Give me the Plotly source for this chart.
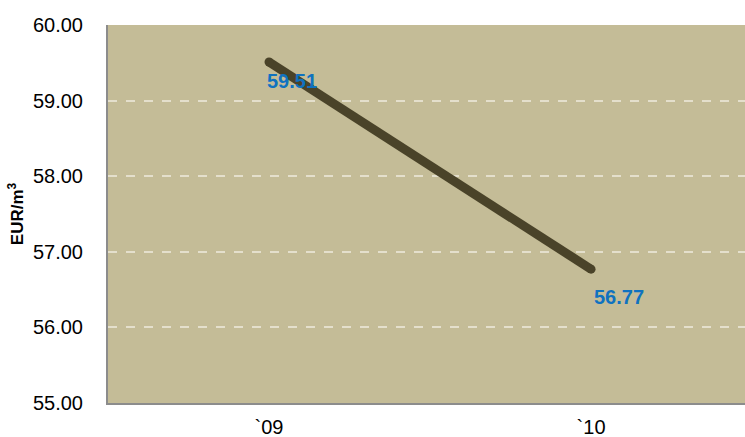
import plotly.graph_objects as go

years = ["`09", "`10"]
price = [59.51, 56.77]
y_ticks = [55, 56, 57, 58, 59, 60]

label_shift = [(-4, -6), (1, -15)]
line_color = "#4a4329"

fig = go.Figure()
fig.add_trace(go.Scatter(
    x=years, y=price, mode="lines+markers",
    line=dict(color=line_color, width=9),
    marker=dict(color=line_color, size=9, line=dict(width=0)),
    hoverinfo="skip", showlegend=False,
))

for xv, yv, (dx, dy) in zip(years, price, label_shift):
    fig.add_annotation(
        x=xv, y=yv, text=f"<b>{yv:.2f}</b>", showarrow=False,
        xanchor="left", yanchor="top", xshift=dx, yshift=dy,
        font=dict(family="Liberation Sans, Arial", size=20, color="#0f72c0"),
    )

fig.update_layout(
    width=745, height=437,
    margin=dict(l=108, r=0, t=25, b=34),
    paper_bgcolor="white", plot_bgcolor="#c4bc97",
    font=dict(family="Liberation Sans, Arial", color="#000000"),
    xaxis=dict(
        type="category", range=[-0.5, 1.478], automargin=False,
        showgrid=False, showline=True, linecolor="#8c8c8c", linewidth=2,
        ticks="", tickfont=dict(size=20), ticklabelstandoff=5,
    ),
    yaxis=dict(
        range=[55, 60], tickvals=y_ticks, automargin=False,
        ticktext=[f"{v:.2f}" for v in y_ticks],
        showgrid=True, gridcolor="#e4dfcc", griddash="dash", gridwidth=2,
        showline=True, linecolor="#8c8c8c", linewidth=2,
        zeroline=False, ticks="", tickfont=dict(size=20), ticklabelstandoff=19,
        title=dict(text="<b>EUR/m<sup>3</sup></b>", font=dict(size=17), standoff=5),
    ),
)

fig.write_html("out.html")
